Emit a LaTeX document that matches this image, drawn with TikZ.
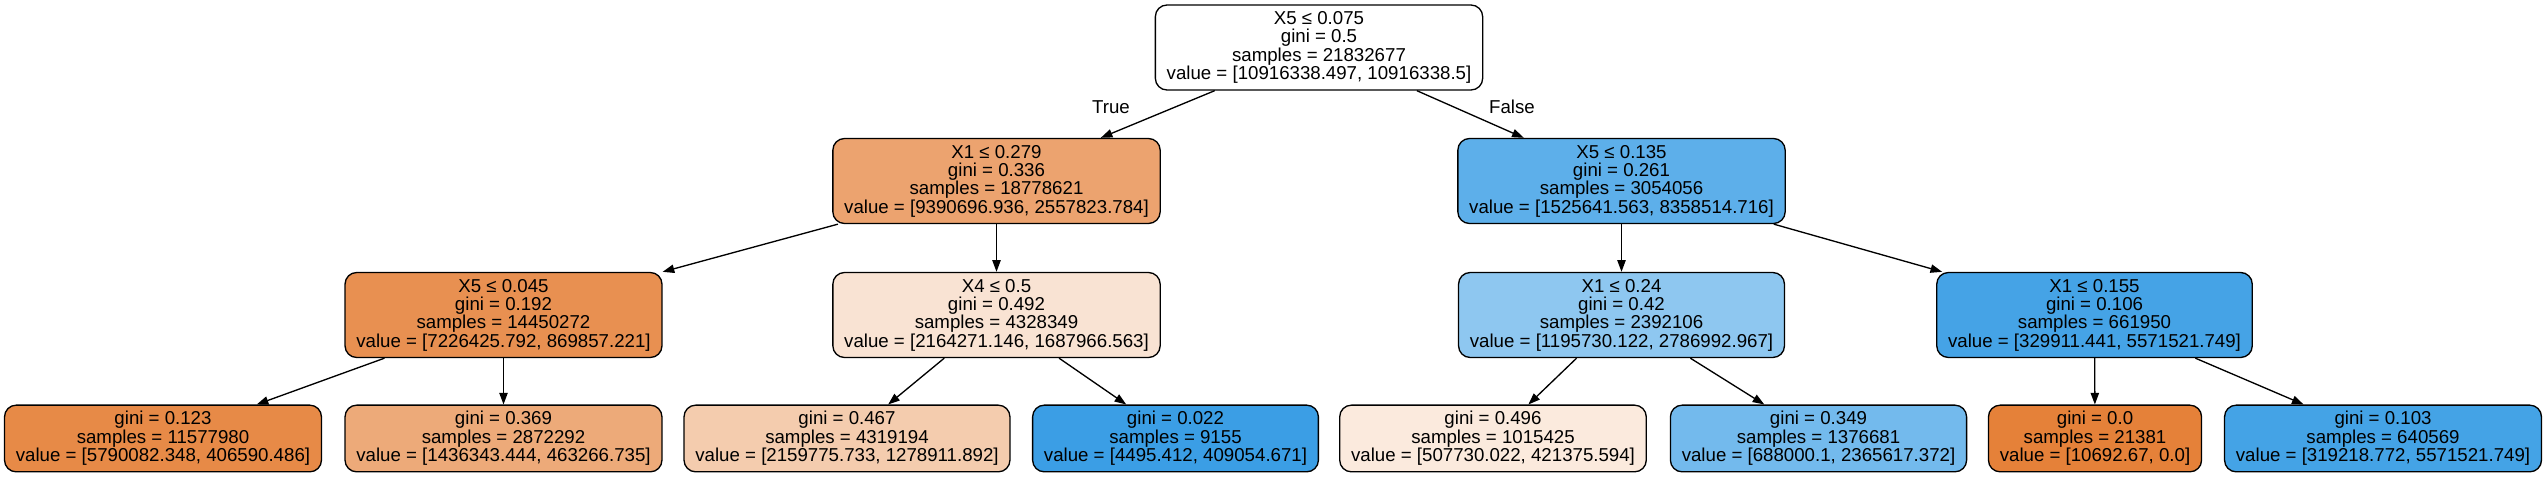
\documentclass[tikz,border=0pt]{standalone}
\usepackage{fontspec}
\setmainfont{Liberation Sans}
\usetikzlibrary{arrows.meta}
\definecolor{nroot}{RGB}{255,255,255}
\definecolor{nl}{RGB}{236,163,111}
\definecolor{nr}{RGB}{93,175,234}
\definecolor{nll}{RGB}{232,144,81}
\definecolor{nlr}{RGB}{249,227,211}
\definecolor{nrl}{RGB}{142,199,240}
\definecolor{nrr}{RGB}{69,163,230}
\definecolor{lfa}{RGB}{231,138,71}
\definecolor{lfb}{RGB}{237,170,121}
\definecolor{lfc}{RGB}{244,204,174}
\definecolor{lfd}{RGB}{59,158,229}
\definecolor{lfe}{RGB}{251,234,221}
\definecolor{lff}{RGB}{115,186,237}
\definecolor{lfg}{RGB}{229,129,57}
\definecolor{lfh}{RGB}{68,163,230}
\begin{document}
\begin{tikzpicture}[
  x=0.6pt,
  y=-0.6pt,
  line width=0.8pt,
  font=\fontsize{11.2}{11}\selectfont,
  decision/.style={
     draw,
     rounded corners=7pt,
     align=center,
     inner xsep=6.8pt,
     inner ysep=2pt,
     minimum height=51pt,
  },
  leaf/.style={decision, minimum height=40pt},
  branch/.style={-{Triangle[length=7pt,width=5pt]}},
]
   \useasboundingbox (0,0) rectangle (2546,477);
   \node[decision,fill=nroot] (root) at (1319,47.5) {X5 ≤ 0.075\\gini = 0.5\\samples = 21832677\\value = [10916338.497, 10916338.5]};
   \node[decision,fill=nl] (l) at (996.5,181) {X1 ≤ 0.279\\gini = 0.336\\samples = 18778621\\value = [9390696.936, 2557823.784]};
   \node[decision,fill=nr] (r) at (1621.5,181) {X5 ≤ 0.135\\gini = 0.261\\samples = 3054056\\value = [1525641.563, 8358514.716]};
   \node[decision,fill=nll] (ll) at (503.5,315) {X5 ≤ 0.045\\gini = 0.192\\samples = 14450272\\value = [7226425.792, 869857.221]};
   \node[decision,fill=nlr] (lr) at (996.5,315) {X4 ≤ 0.5\\gini = 0.492\\samples = 4328349\\value = [2164271.146, 1687966.563]};
   \node[decision,fill=nrl] (rl) at (1621.5,315) {X1 ≤ 0.24\\gini = 0.42\\samples = 2392106\\value = [1195730.122, 2786992.967]};
   \node[decision,fill=nrr] (rr) at (2094.5,315) {X1 ≤ 0.155\\gini = 0.106\\samples = 661950\\value = [329911.441, 5571521.749]};
   \node[leaf,fill=lfa] (lll) at (163,438.5) {gini = 0.123\\samples = 11577980\\value = [5790082.348, 406590.486]};
   \node[leaf,fill=lfb] (llr) at (503.5,438.5) {gini = 0.369\\samples = 2872292\\value = [1436343.444, 463266.735]};
   \node[leaf,fill=lfc] (lrl) at (847,438.5) {gini = 0.467\\samples = 4319194\\value = [2159775.733, 1278911.892]};
   \node[leaf,fill=lfd] (lrr) at (1175.5,438.5) {gini = 0.022\\samples = 9155\\value = [4495.412, 409054.671]};
   \node[leaf,fill=lfe] (rll) at (1493,438.5) {gini = 0.496\\samples = 1015425\\value = [507730.022, 421375.594]};
   \node[leaf,fill=lff] (rlr) at (1818.5,438.5) {gini = 0.349\\samples = 1376681\\value = [688000.1, 2365617.372]};
   \node[leaf,fill=lfg] (rrl) at (2095,438.5) {gini = 0.0\\samples = 21381\\value = [10692.67, 0.0]};
   \node[leaf,fill=lfh] (rrr) at (2383,438.5) {gini = 0.103\\samples = 640569\\value = [319218.772, 5571521.749]};
   \node (true) at (1111,107) {True};
   \node (false) at (1512,107) {False};
   \draw[branch] (root) -- (l);
   \draw[branch] (root) -- (r);
   \draw[branch] (l) -- (ll);
   \draw[branch] (l) -- (lr);
   \draw[branch] (r) -- (rl);
   \draw[branch] (r) -- (rr);
   \draw[branch] (ll) -- (lll);
   \draw[branch] (ll) -- (llr);
   \draw[branch] (lr) -- (lrl);
   \draw[branch] (lr) -- (lrr);
   \draw[branch] (rl) -- (rll);
   \draw[branch] (rl) -- (rlr);
   \draw[branch] (rr) -- (rrl);
   \draw[branch] (rr) -- (rrr);
\end{tikzpicture}
\end{document}
